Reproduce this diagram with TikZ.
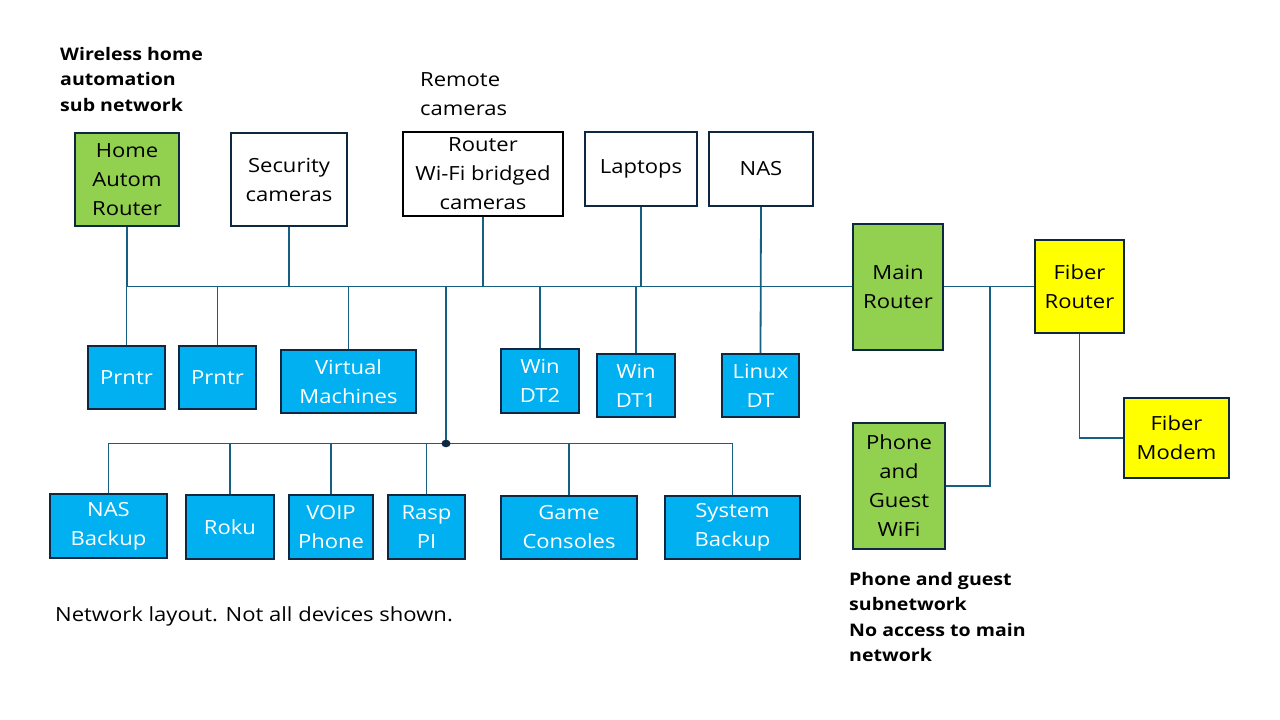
\documentclass[tikz,border=0pt]{standalone}
\usepackage{fontspec}
\setmainfont{Open Sans}[FakeStretch=1.13]
\definecolor{gr}{HTML}{92D050}
\definecolor{yl}{HTML}{FFFF00}
\definecolor{bl}{HTML}{00B0F0}
\definecolor{bd}{HTML}{0E2841}
\definecolor{wire}{HTML}{156082}
\begin{document}
\begin{tikzpicture}[x=1pt,y=-1pt,
  box/.style={draw=bd, line width=2pt, align=center, inner sep=0pt,
    font=\fontsize{19.5}{29}\selectfont},
  greenbox/.style={box, fill=gr},
  yellowbox/.style={box, fill=yl},
  whitebox/.style={box, fill=white},
  bluebox/.style={box, fill=bl, text=white},
  wireln/.style={draw=wire, line width=1.8pt},
  boldlabel/.style={anchor=north west, align=left, inner sep=0pt,
    font=\fontsize{17.3}{25.4}\selectfont\bfseries},
  plainlabel/.style={anchor=north west, align=left, inner sep=0pt,
    font=\fontsize{19.5}{29}\selectfont}
]
\useasboundingbox (0,0) rectangle (1280,720);
% top row
\node[greenbox, minimum width=104, minimum height=93] (home) at (127,179.5) {Home\\Autom\\Router};
\node[whitebox, minimum width=116, minimum height=93] (sec) at (289,179.5) {Security\\cameras};
\node[whitebox, draw=black, minimum width=160, minimum height=84] (rwifi) at (483,174) {Router\\Wi-Fi bridged\\cameras};
\node[whitebox, minimum width=112, minimum height=74] (lap) at (641,169) {Laptops};
\node[whitebox, minimum width=104, minimum height=74] (nas) at (761,169) {NAS};
% routers
\node[greenbox, minimum width=90, minimum height=126] (main) at (898,286.5) {Main\\Router};
\node[yellowbox, minimum width=89, minimum height=93] (frouter) at (1079.5,286.5) {Fiber\\Router};
\node[yellowbox, minimum width=105, minimum height=80] (modem) at (1176.5,438) {Fiber\\Modem};
\node[greenbox, minimum width=92, minimum height=126] (phone) at (899,486) {Phone\\and\\Guest\\WiFi};
% middle row
\node[bluebox, minimum width=77, minimum height=63] (p1) at (126.5,377.5) {Prntr};
\node[bluebox, minimum width=77, minimum height=63] (p2) at (217.5,377.5) {Prntr};
\node[bluebox, minimum width=135, minimum height=63] (vm) at (348.5,381.5) {Virtual\\Machines};
\node[bluebox, minimum width=78, minimum height=64] (dt2) at (540,381) {Win\\DT2};
\node[bluebox, minimum width=78, minimum height=63] (dt1) at (636,385.5) {Win\\DT1};
\node[bluebox, minimum width=77, minimum height=63] (lin) at (760.5,385.5) {Linux\\DT};
% bottom row
\node[bluebox, minimum width=117, minimum height=64] (nasb) at (108.5,526) {NAS\\Backup};
\node[bluebox, minimum width=88, minimum height=64] (roku) at (230,527) {Roku};
\node[bluebox, minimum width=84, minimum height=64] (voip) at (331,527) {VOIP\\Phone};
\node[bluebox, minimum width=77, minimum height=64] (rasp) at (426.5,527) {Rasp\\PI};
\node[bluebox, minimum width=136, minimum height=63] (game) at (569,527.5) {Game\\Consoles};
\node[bluebox, minimum width=135, minimum height=63] (sysb) at (732.5,527.5) {System\\Backup};
% labels
\node[boldlabel] (lblwl) at (60,47) {Wireless home\\automation\\sub network};
\node[plainlabel] (lblrc) at (420,72) {Remote\\cameras};
\node[boldlabel] (lblpg) at (849,572) {Phone and guest\\subnetwork\\No access to main\\network};
\node[plainlabel] (lblnl) at (55,606) {Network layout. Not all devices shown.};
% coordinates
\coordinate (j) at (446,443.5);
\coordinate (tap) at (990,286.5);
% main bus
\draw[wireln] (home.south) |- (main.west);
\draw[wireln] (sec.south) -- (sec.south |- main.west);
\draw[wireln] (rwifi.south) -- (rwifi.south |- main.west);
\draw[wireln] (lap.south) -- (lap.south |- main.west);
\draw[wireln] (nas.south) -- (lin.north);
\draw[wireln] (p1.north) -- (p1.north |- main.west);
\draw[wireln] (p2.north) -- (p2.north |- main.west);
\draw[wireln] (vm.north) -- (vm.north |- main.west);
\draw[wireln] (dt2.north) -- (dt2.north |- main.west);
\draw[wireln] (dt1.north) -- (dt1.north |- main.west);
\draw[wireln] (j) -- (j |- main.west);
% lower bus
\draw[wireln] (nasb.north) |- (j) -| (sysb.north);
\draw[wireln] (roku.north) -- (roku.north |- j);
\draw[wireln] (voip.north) -- (voip.north |- j);
\draw[wireln] (rasp.north) -- (rasp.north |- j);
\draw[wireln] (game.north) -- (game.north |- j);
\fill[bd] (j) ellipse (4.5 and 3.8);
% right side
\draw[wireln] (main.east) -- (frouter.west);
\draw[wireln] (phone.east) -| (tap);
\draw[wireln] (frouter.south) |- (modem.west);
\end{tikzpicture}
\end{document}
